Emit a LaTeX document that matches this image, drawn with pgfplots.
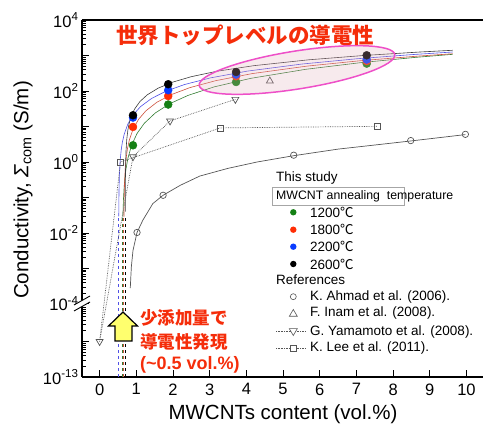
\documentclass[border=0pt]{standalone}
\usepackage{pgfplots}
\pgfplotsset{compat=1.18}
\usepackage{fontspec}
\setmainfont{Liberation Sans}
\newfontfamily\cjk{Noto Sans CJK JP}
\usetikzlibrary{shapes.geometric}
\definecolor{dgreen}{RGB}{20,128,20}
\definecolor{dred}{RGB}{255,45,5}
\definecolor{dblue}{RGB}{10,60,255}
\definecolor{lgreen}{RGB}{50,125,50}
\definecolor{lred}{RGB}{205,80,60}
\definecolor{lblue}{RGB}{80,80,230}
\definecolor{lblack}{RGB}{60,60,60}
\definecolor{refgray}{RGB}{85,85,85}
\definecolor{txtred}{RGB}{245,45,10}
\definecolor{ellpink}{RGB}{238,80,200}
\definecolor{ellfill}{RGB}{225,170,185}
\definecolor{arrowyellow}{RGB}{255,255,110}
% values below the axis break (< 1e-8) are shifted up by 10^6.94 so that 1e-13 sits at the bottom
\newcommand{\brk}{\thisrow{y}<1e-8 ? \thisrow{y}*8.71e6 : \thisrow{y}}
\begin{document}
\begin{tikzpicture}
\begin{axis}[
  scale only axis, width=401pt, height=357pt,
  xmin=-0.48, xmax=10.45,
  ymode=log, ymin=8.71e-7, ymax=1e4,
  axis x line*=bottom, axis y line*=left,
  axis line style={line width=1.1pt},
  xtick={0,1,2,3,4,5,6,7,8,9,10},
  ytick={8.71e-7,8.71e-6,1e-4,1e-3,1e-2,1e-1,1,10,100,1000,10000},
  yticklabels={10\textsuperscript{-13},,10\textsuperscript{-4},,10\textsuperscript{-2},,10\textsuperscript{0},,10\textsuperscript{2},,10\textsuperscript{4}},
  minor ytick={1.742e-6,2.613e-6,3.484e-6,4.355e-6,5.226e-6,6.097e-6,6.968e-6,7.839e-6,
    1.742e-5,2.613e-5,3.484e-5,4.355e-5,5.226e-5,6.097e-5,6.968e-5,7.839e-5,
    2e-4,3e-4,4e-4,5e-4,6e-4,7e-4,8e-4,9e-4,
    2e-3,3e-3,4e-3,5e-3,6e-3,7e-3,8e-3,9e-3,
    2e-2,3e-2,4e-2,5e-2,6e-2,7e-2,8e-2,9e-2,
    0.2,0.3,0.4,0.5,0.6,0.7,0.8,0.9,
    2,3,4,5,6,7,8,9,
    20,30,40,50,60,70,80,90,
    200,300,400,500,600,700,800,900,
    2000,3000,4000,5000,6000,7000,8000,9000},
  tick align=inside,
  major tick length=7pt, minor tick length=4pt,
  every tick/.style={black, line width=0.8pt},
  ticklabel style={font=\fontsize{16.5}{18}\selectfont},
  /pgf/number format/assume math mode=true,
  xticklabel style={yshift=-3pt},
]
% percolation thresholds (dashed)
\addplot[lblue, dashed, line width=1.1pt] table[x=x, y expr={\brk}] {
x y
0.52 1e-13
0.52 0.03
};
\addplot[lgreen, dashed, line width=1.1pt] table[x=x, y expr={\brk}] {
x y
0.62 1e-13
0.62 0.03
};
\addplot[lred, dashed, line width=1.1pt] table[x=x, y expr={\brk}] {
x y
0.66 1e-13
0.66 0.03
};
\addplot[black, dashed, line width=1.1pt] table[x=x, y expr={\brk}] {
x y
0.70 1e-13
0.70 0.03
};
% fitted curves
\addplot[lgreen, line width=0.6pt] coordinates {(0.635,0.0281)(0.64,0.0451)(0.65,0.0881)(0.67,0.205)(0.69,0.357)(0.72,0.642)(0.77,1.255)(0.87,2.92)(1.02,6.33)(1.22,12.35)(1.52,24.1)(1.92,44.3)(2.42,75.7)(3.12,130.2)(4.12,227)(5.62,408)(7.12,629)(8.62,887)(9.62,1077)};
\addplot[lred, line width=0.6pt] coordinates {(0.664,0.0288)(0.666,0.050)(0.67,0.101)(0.68,0.261)(0.70,0.674)(0.73,1.452)(0.76,2.37)(0.81,4.12)(0.91,8.31)(1.06,15.8)(1.26,27.5)(1.56,48.1)(1.96,79.4)(2.46,124.2)(3.16,194.6)(4.16,309)(5.66,503)(7.16,721)(8.66,957)(9.62,1119)};
\addplot[lblue, line width=0.6pt] coordinates {(0.5225,0.0294)(0.525,0.0725)(0.53,0.178)(0.54,0.439)(0.56,1.081)(0.59,2.24)(0.62,3.56)(0.67,6.03)(0.77,11.7)(0.92,21.6)(1.12,36.6)(1.42,61.9)(1.82,99.9)(2.32,152.5)(3.02,233.7)(4.02,362)(5.52,575)(7.02,810)(8.52,1060)(9.62,1253)};
\addplot[lblack, line width=0.6pt] coordinates {(0.7005,0.0396)(0.701,0.083)(0.702,0.175)(0.705,0.466)(0.71,0.978)(0.72,2.05)(0.74,4.31)(0.77,7.85)(0.80,11.5)(0.85,17.7)(0.95,30.6)(1.10,50.6)(1.30,78.1)(1.60,120.6)(2.00,178.6)(2.50,253)(3.20,360)(4.20,516)(5.70,756)(7.20,1000)(8.70,1248)(9.62,1402)};
% Ahmad fit
\addplot[refgray, line width=0.7pt] coordinates {(0.836,2.8e-4)(0.865,1.1e-3)(0.91,3.2e-3)(1.02,0.0103)(1.18,0.023)(1.45,0.067)(1.73,0.115)(2.2,0.22)(2.73,0.40)(3.5,0.66)(4.3,1.0)(5.29,1.5)(6.5,2.3)(7.5,3.0)(8.48,3.9)(9.97,5.9)};
% references
\addplot[refgray, densely dotted, line width=0.7pt, mark=square, mark size=3pt, mark indices={2,3,4}, mark options={solid, fill=white}] table[x=x, y expr={\brk}] {
x y
0 1e-12
0.57 1.0
3.29 9.1
7.58 10.1
};
\addplot[refgray, densely dotted, line width=0.7pt, mark=triangle, mark size=4pt, mark options={solid, fill=white, rotate=180}] table[x=x, y expr={\brk}] {
x y
0 1e-12
0.91 1.4
1.92 14.3
3.70 58
};
\addplot[refgray, only marks, mark=o, mark size=3.2pt, mark options={fill=white, line width=0.7pt}] coordinates {(1.02,0.0103)(1.73,0.115)(5.29,1.55)(8.48,4.0)(9.97,6.0)};
\addplot[refgray, only marks, mark=triangle, mark size=4pt, mark options={fill=white, line width=0.7pt}] coordinates {(4.64,191)};
% this study
\addplot[only marks, mark=*, mark size=4pt, mark options={draw=dgreen, fill=dgreen}] coordinates {(0.91,2.95)(1.87,41.5)(3.72,179)(7.28,590)};
\addplot[only marks, mark=*, mark size=4pt, mark options={draw=dred, fill=dred}] coordinates {(0.91,9.7)(1.87,72)(3.72,260)(7.28,700)};
\addplot[only marks, mark=*, mark size=4pt, mark options={draw=dblue, fill=dblue}] coordinates {(0.91,17.8)(1.87,105)(3.72,290)(7.28,767)};
\addplot[only marks, mark=*, mark size=4pt, mark options={draw=black, fill=black}] coordinates {(0.91,20.7)(1.87,155)(3.72,343)(7.28,1013)};
\end{axis}
\begin{scope}[shift={(-82pt,377pt)}, x=1pt, y=-1pt]
  % top frame line
  \draw[line width=1.1pt] (82,20) -- (483,20);
  % axis break
  \fill[white] (74,305) -- (90,296) -- (90,302) -- (74,311) -- cycle;
  \draw[line width=0.9pt] (74,305) -- (90,296);
  \draw[line width=0.9pt] (74,311) -- (90,302);
  % ellipse
  \node[ellipse, rotate=9, minimum width=198pt, minimum height=38pt, inner sep=0pt,
        draw=ellpink, line width=1.5pt, fill=ellfill, fill opacity=0.25] at (297,70) {};
  % titles
  \node[text=txtred, font=\cjk\bfseries\fontsize{21.5}{22}\selectfont, anchor=west, inner sep=0pt] at (116,35) {世界トップレベルの導電性};
  % yellow arrow
  \draw[fill=arrowyellow, line width=1.2pt, line join=miter] (123,312) -- (137.5,326) -- (132,326) -- (132,341) -- (115,341) -- (115,326) -- (108.5,326) -- cycle;
  \node[text=txtred, font=\cjk\bfseries\fontsize{17.5}{18}\selectfont, anchor=west, inner sep=0pt] at (140,318) {少添加量で};
  \node[text=txtred, font=\cjk\bfseries\fontsize{17.5}{18}\selectfont, anchor=west, inner sep=0pt] at (140,342) {導電性発現};
  \node[text=txtred, font=\bfseries\fontsize{18}{18}\selectfont, anchor=west, inner sep=0pt] at (140,365) {(\textasciitilde0.5 vol.\%)};
  % axis labels
  \node[font=\fontsize{20.5}{21}\selectfont, rotate=90] at (23,190) {Conductivity, \textit{Σ}\textsubscript{com} (S/m)};
  \node[font=\fontsize{20.5}{21}\selectfont] at (283,414) {MWCNTs content (vol.\%)};
  % legend
  \begin{scope}[every node/.style={anchor=west, inner sep=0pt, font=\fontsize{13.5}{14}\selectfont}]
    \node at (276,178) {This study};
    \draw[gray!70, line width=0.6pt] (272,187) rectangle (404,205);
    \node[font=\fontsize{12.3}{14}\selectfont] at (276,196) {MWCNT annealing\ \ temperature};
    \fill[dgreen] (293.3,212.3) circle (3.2);
    \fill[dred] (293.3,229.7) circle (3.2);
    \fill[dblue] (293.3,246.7) circle (3.2);
    \fill[black] (293.3,264) circle (3.2);
    \node at (310,212.3) {1200{\cjk ℃}};
    \node at (310,229.7) {1800{\cjk ℃}};
    \node at (310,246.7) {2200{\cjk ℃}};
    \node at (310,264) {2600{\cjk ℃}};
    \node at (276,280) {References};
    \draw[refgray, line width=0.6pt] (293.3,296.7) circle (3);
    \draw[refgray, line width=0.6pt] (293.3,309.5) -- (297.3,316.3) -- (289.3,316.3) -- cycle;
    \draw[refgray, densely dotted, line width=0.6pt] (276,331.7) -- (306,331.7);
    \draw[refgray, line width=0.6pt, fill=white] (293.3,335.5) -- (297.3,328.7) -- (289.3,328.7) -- cycle;
    \draw[refgray, densely dotted, line width=0.6pt] (276,348.3) -- (306,348.3);
    \draw[refgray, line width=0.6pt, fill=white] (290,345) rectangle (296.6,351.6);
    \node at (310,296.7) {K. Ahmad et al. (2006).};
    \node at (310,313.3) {F. Inam et al. (2008).};
    \node at (310,331.7) {G. Yamamoto et al. (2008).};
    \node at (310,348.3) {K. Lee et al. (2011).};
  \end{scope}
\end{scope}
\pgfresetboundingbox
\path[use as bounding box] (-82pt,-51pt) rectangle (401pt,377pt);
\end{tikzpicture}
\end{document}
